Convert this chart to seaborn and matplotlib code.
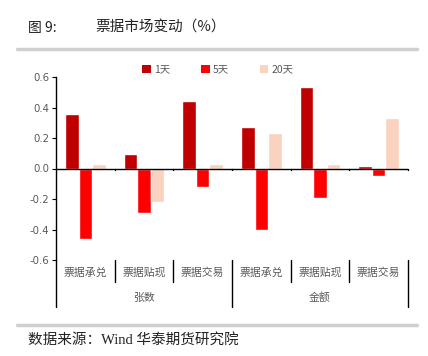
import matplotlib
matplotlib.use("Agg")
import matplotlib.pyplot as plt
import seaborn as sns
import pandas as pd
import matplotlib.transforms as mtransforms
from matplotlib.patches import Patch

sns.set_theme(style="white")
plt.rcParams['font.family'] = ['Noto Sans CJK SC', 'DejaVu Sans']
plt.rcParams['axes.unicode_minus'] = False

subcats = ["票据承兑", "票据贴现", "票据交易", "票据承兑", "票据贴现", "票据交易"]
groups = ["张数", "金额"]
series = ["1天", "5天", "20天"]
v1 = [0.355, 0.095, 0.44, 0.27, 0.535, 0.015]
v5 = [-0.46, -0.295, -0.12, -0.405, -0.195, -0.05]
v20 = [0.03, -0.22, 0.03, 0.235, 0.03, 0.33]
colors = ["#C00000", "#FF0000", "#FBD2C0"]

cat_ids = [f"{g}-{s}-{i}" for i, (g, s) in enumerate(zip([groups[0]]*3 + [groups[1]]*3, subcats))]
rows = []
for name, vals in zip(series, [v1, v5, v20]):
    for c, v in zip(cat_ids, vals):
        rows.append({"cat": c, "series": name, "value": v})
df = pd.DataFrame(rows)

fig = plt.figure(figsize=(4.28, 3.56), dpi=100)
ax = fig.add_axes([56/428, 1-260/356, 352/428, 183/356])
sns.barplot(data=df, x="cat", y="value", hue="series", order=cat_ids,
            hue_order=series, palette=colors, width=0.69, ax=ax, legend=False,
            saturation=1)
n = len(cat_ids)
ax.set_xlim(-0.5, n-0.5)
ax.set_ylim(-0.6, 0.6)
ticks = [-0.6, -0.4, -0.2, 0.0, 0.2, 0.4, 0.6]
ax.set_yticks(ticks)
ax.set_yticklabels([f"{t:.1f}" for t in ticks],
                   fontsize=7.3, color="#595959", family="DejaVu Sans")
ax.tick_params(axis='y', length=3, width=0.8, color="black", pad=2, direction="out", left=True)
ax.set_xticks([])
ax.set_xlabel("")
ax.set_ylabel("")
for s in ["top", "right", "bottom"]:
    ax.spines[s].set_visible(False)
ax.spines["left"].set_color("black")
ax.spines["left"].set_linewidth(1.0)

# zero line
ax.axhline(0, color="black", lw=1.0, zorder=3)
trans = mtransforms.blended_transform_factory(ax.transData, ax.transAxes)
ax_h = 183
for b in range(1, n+1):
    x = b - 0.5
    ax.plot([x, x], [0, -0.012], color="black", lw=1.0, clip_on=False)
# category labels and separators
for i, s in enumerate(subcats):
    ax.text(i, -13/ax_h, s, transform=trans, ha="center", va="center",
            fontsize=7.8, color="#595959")
for b in range(0, n+1):
    x = b - 0.5
    if b % 3 == 0:
        ax.plot([x, x], [0, -47/ax_h], transform=trans, color="black", lw=1.0, clip_on=False)
    else:
        ax.plot([x, x], [0, -22/ax_h], transform=trans, color="black", lw=1.0, clip_on=False)
for gi, g in enumerate(groups):
    ax.text(gi*3 + 1, -38/ax_h, g, transform=trans, ha="center", va="center",
            fontsize=7.8, color="#595959")

handles = [Patch(facecolor=c, edgecolor="none") for c in colors]
leg = ax.legend(handles, series, ncol=3, loc="center", bbox_to_anchor=(0.46, 1.04),
                frameon=False, fontsize=7.5, handlelength=0.8, handleheight=0.8,
                handletextpad=0.3, columnspacing=3.0, borderpad=0)
for t in leg.get_texts():
    t.set_color("#595959")

# title & decorations
fig.text(28/428, 1-28/356, "图 9:", fontsize=10, va="center", ha="left",
         family=['Noto Sans CJK SC'], color="#222222")
fig.text(95/428, 1-28/356, "票据市场变动（%）", fontsize=10.5, va="center", ha="left",
         family=['Noto Sans CJK SC'], color="#222222")
fig.add_artist(plt.Line2D([17/428, 417/428], [1-49/356, 1-49/356], color="#D0D0D0", lw=2.5))
fig.add_artist(plt.Line2D([17/428, 417/428], [1-325/356, 1-325/356], color="#D0D0D0", lw=2.5))
fig.text(28/428, 1-340/356, "数据来源：Wind 华泰期货研究院", fontsize=10.5, va="center", ha="left",
         family=['Liberation Serif', 'Noto Sans CJK SC'], color="#222222")

fig.savefig("out.png", dpi=100)
